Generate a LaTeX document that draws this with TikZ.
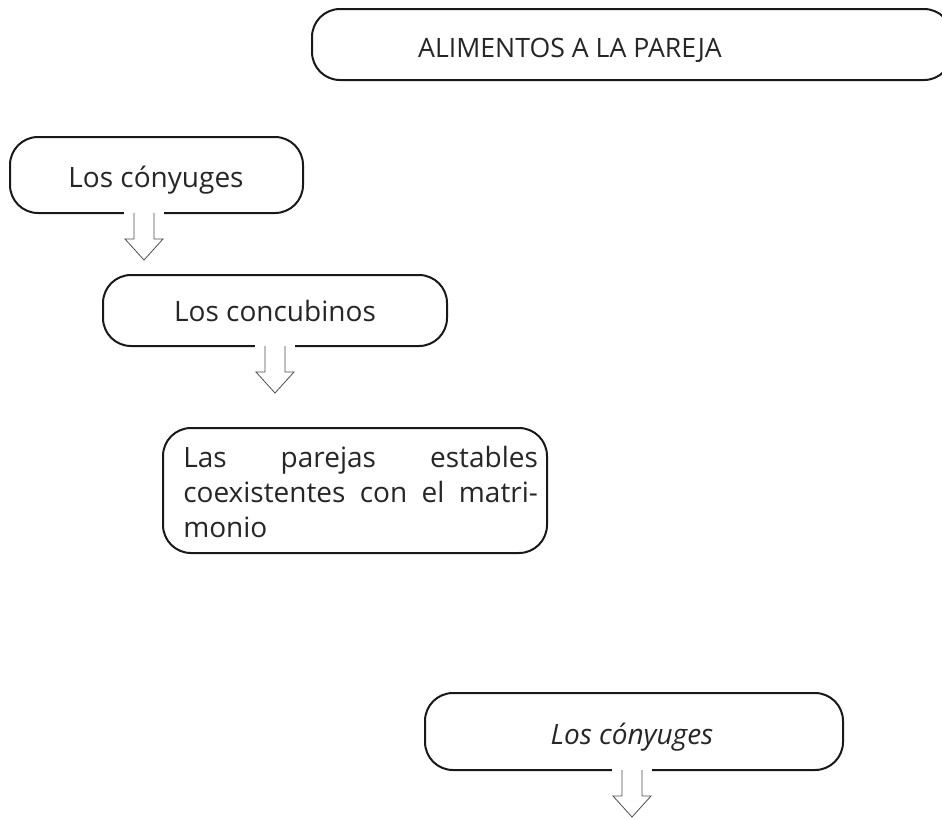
\documentclass[tikz,border=0pt]{standalone}
\usepackage{fontspec}
\setmainfont{Open Sans}
\begin{document}
\begin{tikzpicture}[x=0.75pt,y=-0.75pt,
  box/.style={draw=black!90, line width=1.5pt, rounded corners=21pt, rectangle, inner sep=0pt},
  lbl/.style={inner sep=0pt, anchor=base, font=\fontsize{21}{25}\selectfont, text=black!85},
  arrowline/.style={draw=black!70, line width=0.6pt, line join=miter},
  blockarrow/.pic={
    \fill[white] (-20,-2) rectangle (20,2);
    \draw[arrowline] (-10,0) -- (-10,26) -- (-19,26) -- (0,47) -- (19,26) -- (10,26) -- (10,0);
  }]
\useasboundingbox (0,0) rectangle (942,819);
% boxes
\node[box, minimum width=640*0.75pt, minimum height=71*0.75pt] (title) at (632,44.5) {};
\node[box, minimum width=293*0.75pt, minimum height=76*0.75pt] (b1) at (156.5,175) {};
\node[box, minimum width=344*0.75pt, minimum height=71*0.75pt] (b2) at (275,310.5) {};
\node[box, minimum width=384*0.75pt, minimum height=125*0.75pt] (b3) at (355,490.5) {};
\node[box, minimum width=418*0.75pt, minimum height=77*0.75pt] (b4) at (634,731.5) {};
% texts
\node[lbl, font=\fontsize{20}{24}\selectfont] (t0) at (570,57) {ALIMENTOS A LA PAREJA};
\node[lbl] (t1) at (156,187) {Los cónyuges};
\node[lbl] (t2) at (275,321) {Los concubinos};
\node[lbl, anchor=north west, align=left] (t3) at (183,446) {%
  \parbox[t]{266pt}{\fontsize{21}{26.25}\selectfont
  \makebox[\linewidth][s]{Las parejas estables}\\
  \makebox[\linewidth][s]{coexistentes con el matri-}\\
  monio}};
\node[lbl] (t4) at (632,744) {\itshape Los cónyuges};
% arrows
\coordinate (a1) at (144,213);
\coordinate (a2) at (275,346);
\coordinate (a3) at (632,770);
\pic at (a1) {blockarrow};
\pic at (a2) {blockarrow};
\pic at (a3) {blockarrow};
\end{tikzpicture}
\end{document}
